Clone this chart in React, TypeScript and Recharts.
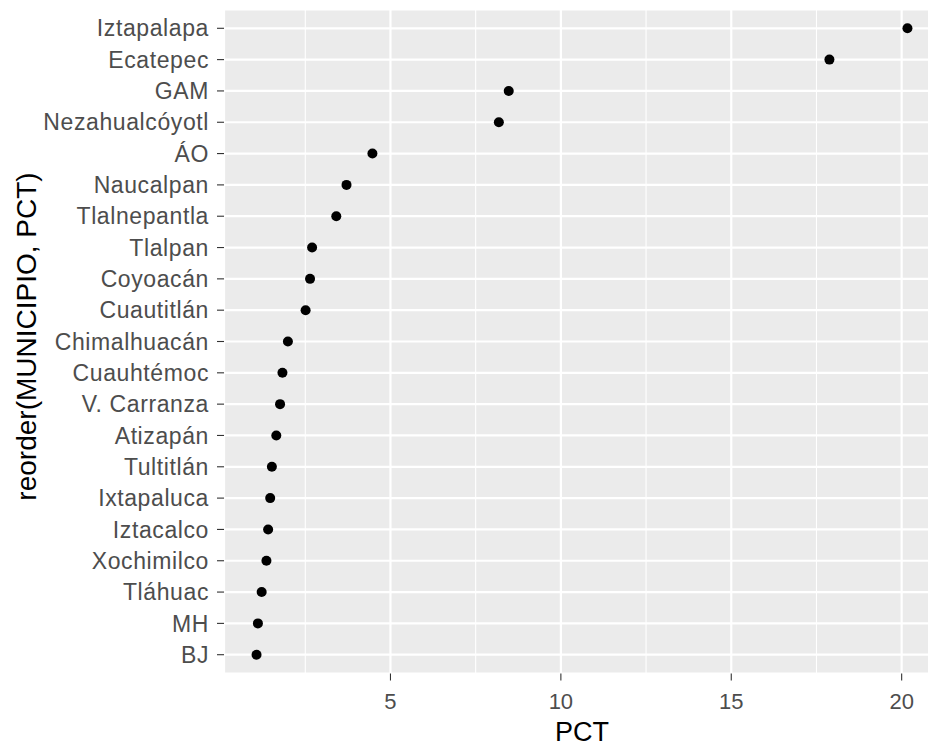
import { ScatterChart, Scatter, XAxis, YAxis, CartesianGrid, ReferenceLine, Label } from 'recharts';

const municipios = [
  'Iztapalapa', 'Ecatepec', 'GAM', 'Nezahualcóyotl', 'ÁO', 'Naucalpan', 'Tlalnepantla',
  'Tlalpan', 'Coyoacán', 'Cuautitlán', 'Chimalhuacán', 'Cuauhtémoc', 'V. Carranza',
  'Atizapán', 'Tultitlán', 'Ixtapaluca', 'Iztacalco', 'Xochimilco', 'Tláhuac', 'MH', 'BJ',
];
const pct = [
  20.17, 17.88, 8.47, 8.18, 4.47, 3.71, 3.41, 2.7, 2.64, 2.51, 1.99, 1.83, 1.76,
  1.65, 1.52, 1.47, 1.41, 1.36, 1.22, 1.11, 1.07,
];
const xTicks = [5, 10, 15, 20];
const xMinor = [2.5, 7.5, 12.5, 17.5];

const data = municipios.map((name, i) => ({ name, pct: pct[i], idx: i }));
const yTicks = municipios.map((_, i) => i);

const FONT = '"Liberation Sans", Arial, sans-serif';

const Dot = (props: any) => <circle cx={props.cx} cy={props.cy} r={5} fill="#000" />;

export default function App() {
  return (
    <div style={{ position: 'fixed', top: 0, left: 0, width: 928, height: 747, overflow: 'hidden', background: '#fff' }}>
      <ScatterChart width={960} height={747} margin={{ top: 9.5, right: 20, bottom: 0, left: 0 }}>
        <CartesianGrid fill="#EBEBEB" stroke="#fff" strokeWidth={2.2} />
        {xMinor.map((v) => (
          <ReferenceLine key={v} x={v} stroke="#fff" strokeWidth={1.1} />
        ))}
        <XAxis
          type="number"
          dataKey="pct"
          domain={[0.115, 21.125]}
          ticks={xTicks}
          axisLine={false}
          tickSize={7}
          tickMargin={13}
          tickLine={{ stroke: '#333', strokeWidth: 1.1 }}
          tick={{ fill: '#4D4D4D', fontSize: 22, fontFamily: FONT }}
          height={73.5}
        >
          <Label
            content={(p: any) => {
              const vb = p.viewBox;
              return (
                <text x={vb.x + vb.width / 2} y={741} textAnchor="middle" fontSize={27} fontFamily={FONT} fill="#000">
                  PCT
                </text>
              );
            }}
          />
        </XAxis>
        <YAxis
          type="number"
          dataKey="idx"
          reversed
          domain={[-0.6, 20.6]}
          ticks={yTicks}
          interval={0}
          tickFormatter={(v: number) => municipios[v]}
          axisLine={false}
          tickSize={7}
          tickMargin={8}
          tickLine={{ stroke: '#333', strokeWidth: 1.1 }}
          tick={{ fill: '#4D4D4D', fontSize: 23, fontFamily: FONT, letterSpacing: 0.6 }}
          width={224}
        >
          <Label
            content={(p: any) => {
              const vb = p.viewBox;
              const cy = vb.y + vb.height / 2 - 5;
              return (
                <text x={36} y={cy} transform={`rotate(-90 36 ${cy})`} textAnchor="middle" fontSize={28} fontFamily={FONT} fill="#000">
                  reorder(MUNICIPIO, PCT)
                </text>
              );
            }}
          />
        </YAxis>
        <Scatter data={data} shape={Dot} isAnimationActive={false} />
      </ScatterChart>
    </div>
  );
}
